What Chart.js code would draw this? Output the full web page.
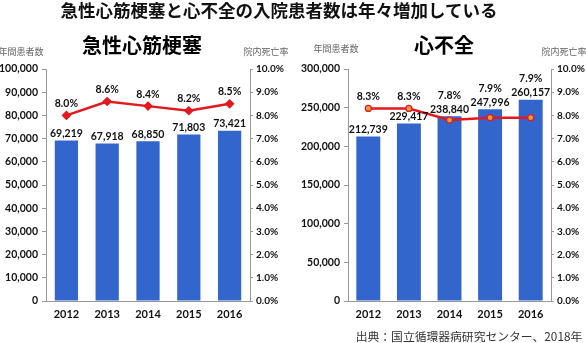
<!DOCTYPE html>
<html><head><meta charset="utf-8">
<script src="https://cdn.jsdelivr.net/npm/chart.js@4/dist/chart.umd.min.js"></script>
<style>
body{margin:0;background:#fff;width:586px;height:343px;overflow:hidden;position:relative;font-family:"Noto Sans CJK JP",sans-serif}
canvas{position:absolute;top:0}
.t{position:absolute;white-space:nowrap;line-height:1;transform:translate(-50%,-50%)}
</style></head><body>
<canvas id="c1" width="293" height="343" style="left:0"></canvas>
<canvas id="c2" width="293" height="343" style="left:293px"></canvas>
<div class="t" style="left:279px;top:10px;font-size:17.5px;font-weight:bold;color:#111">急性心筋梗塞と心不全の入院患者数は年々増加している</div>
<div class="t" style="left:142px;top:45px;font-size:20px;font-weight:bold;color:#000">急性心筋梗塞</div>
<div class="t" style="left:444px;top:45px;font-size:20px;font-weight:bold;color:#000">心不全</div>
<div class="t" style="left:21px;top:51px;font-size:9px;color:#666">年間患者数</div>
<div class="t" style="left:266px;top:51px;font-size:9px;color:#666">院内死亡率</div>
<div class="t" style="left:336px;top:48px;font-size:9px;color:#666">年間患者数</div>
<div class="t" style="left:564px;top:51px;font-size:9px;color:#666">院内死亡率</div>
<div class="t" style="left:469px;top:336px;font-size:11.8px;color:#333">出典：国立循環器病研究センター、2018年</div>
<script>
const years = ['2012','2013','2014','2015','2016'];
const amiPatients = [69219, 67918, 68850, 71803, 73421];
const amiMortality = [8.0, 8.6, 8.4, 8.2, 8.5];
const hfPatients = [212739, 229417, 238840, 247996, 260157];
const hfMortality = [8.3, 8.3, 7.8, 7.9, 7.9];
const amiAxis = {max: 100000, step: 10000};
const hfAxis = {max: 300000, step: 50000};
const rateAxis = {max: 10, step: 1};

Chart.defaults.font.family = 'Lato';
Chart.defaults.font.weight = 'bold';
Chart.defaults.font.size = 10.5;
Chart.defaults.color = '#111';

const valuePlugin = {
  id: 'vals',
  afterDatasetsDraw(chart) {
    const ctx = chart.ctx;
    const lineMeta = chart.getDatasetMeta(0);
    const barMeta = chart.getDatasetMeta(1);
    const lineData = chart.data.datasets[0].data;
    const barData = chart.data.datasets[1].data;
    ctx.save();
    ctx.font = 'bold 10.5px Lato';
    ctx.fillStyle = '#111';
    ctx.textAlign = 'center';
    ctx.textBaseline = 'middle';
    barMeta.data.forEach((bar, i) => {
      ctx.fillText(barData[i].toLocaleString('en-US'), bar.x, bar.y - 7);
      const pt = lineMeta.data[i];
      const py = Math.min(pt.y - 12, bar.y - 21);
      ctx.fillText(lineData[i].toFixed(1) + '%', pt.x, py);
    });
    ctx.restore();
  }
};

function makeChart(id, counts, rates, axis, leftW, rightW, barPct, markerStyle, markerFill) {
  new Chart(document.getElementById(id), {
    data: {
      labels: years,
      datasets: [
        {type: 'line', data: rates, yAxisID: 'y1', borderColor: '#E3191E', borderWidth: 2.5,
         pointStyle: markerStyle, pointRadius: markerStyle === 'rectRot' ? 4 : 3,
         pointBackgroundColor: markerFill, pointBorderColor: '#E3191E', pointBorderWidth: 1.2,
         tension: 0, order: 0},
        {type: 'bar', data: counts, yAxisID: 'y', backgroundColor: '#3366CC',
         barPercentage: barPct, categoryPercentage: 1, order: 1}
      ]
    },
    options: {
      responsive: false, animation: false,
      layout: {padding: {top: 69, left: 0, right: 0, bottom: 0}},
      plugins: {legend: {display: false}, tooltip: {enabled: false}},
      scales: {
        x: {
          grid: {display: false, drawTicks: false}, border: {display: true, color: '#999', width: 1},
          ticks: {padding: 7, font: {size: 11}, color: '#111'},
          afterFit(s) { s.height = 42; }
        },
        y: {
          position: 'left', min: 0, max: axis.max,
          grid: {display: true, drawOnChartArea: false, drawTicks: true, tickLength: 4, color: '#999'},
          border: {display: true, color: '#999', width: 1},
          ticks: {stepSize: axis.step, padding: 4, callback: v => v.toLocaleString('en-US')},
          afterFit(s) { s.width = leftW; }
        },
        y1: {
          position: 'right', min: 0, max: rateAxis.max,
          grid: {display: true, drawOnChartArea: false, drawTicks: true, tickLength: 3, color: '#999'},
          border: {display: true, color: '#999', width: 1},
          ticks: {stepSize: rateAxis.step, padding: 3, font: {size: 10}, callback: v => v.toFixed(1) + '%'},
          afterFit(s) { s.width = rightW; }
        }
      }
    },
    plugins: [valuePlugin]
  });
}

makeChart('c1', amiPatients, amiMortality, amiAxis, 46, 43, 0.57, 'rectRot', '#E3191E');
makeChart('c2', hfPatients, hfMortality, hfAxis, 55, 35, 0.59, 'circle', '#E8A03A');
</script>
</body></html>
